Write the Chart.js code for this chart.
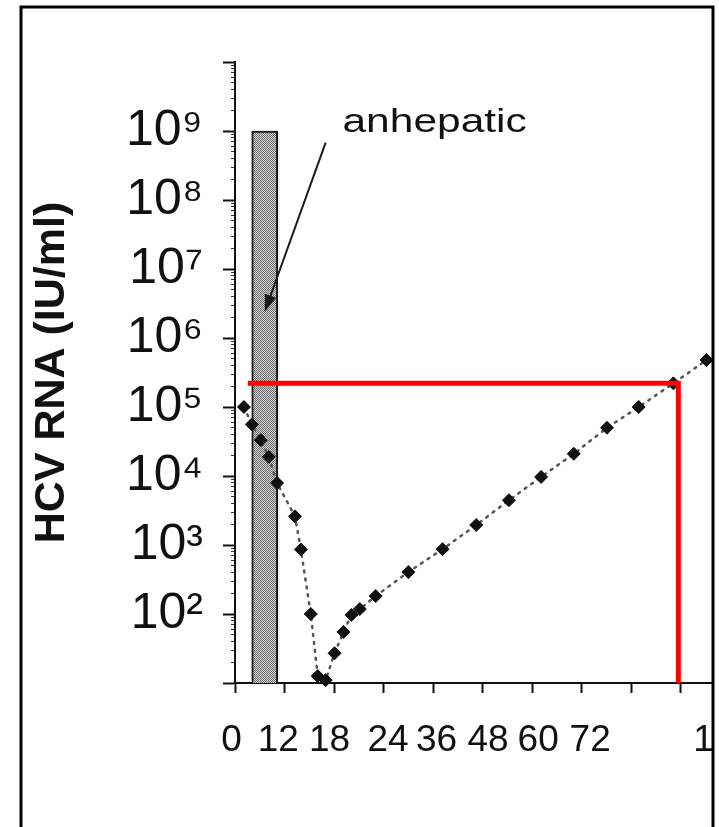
<!DOCTYPE html>
<html>
<head>
<meta charset="utf-8">
<script src="https://cdn.jsdelivr.net/npm/chart.js@4.4.1/dist/chart.umd.min.js"></script>
<style>
  html, body { margin: 0; padding: 0; background: #fff; }
  canvas { display: block; }
</style>
</head>
<body>
<canvas id="c" width="719" height="827"></canvas>
<script>
// Sampling times, in axis units (one unit per tick interval)
const sampleTimes = [0.18, 0.34, 0.52, 0.68, 0.85, 1.21, 1.33, 1.53, 1.67, 1.83,
                     2.01, 2.19, 2.35, 2.52, 2.84, 3.50, 4.19, 4.87, 5.53, 6.18,
                     6.84, 7.51, 8.15, 8.85, 9.52];
// HCV RNA load (IU/ml) at each sampling time
const hcvRna = [1.0e5, 5.6e4, 3.3e4, 1.9e4, 7.9e3, 2.6e3, 860, 100, 12.6, 11,
                27, 55, 97, 118, 182, 405, 870, 1950, 4450, 9700,
                2.1e4, 5.0e4, 1.0e5, 2.2e5, 4.8e5];

// x-axis tick labels and the axis values they are printed at
const xTickLabels = ['0', '12', '18', '24', '36', '48', '60', '72', '1'];
const xTickLabelAt = [-0.07, 0.875, 1.91, 3.09, 4.07, 5.11, 6.12, 7.17, 9.46];
// x-axis tick marks
const xTickMarks = [0, 1, 2, 3, 4, 5, 6, 7, 8, 9];

// y-axis decades (exponents); only these are labelled
const yDecadeExps = [1, 2, 3, 4, 5, 6, 7, 8, 9, 10];
const yLabelledExps = [2, 3, 4, 5, 6, 7, 8, 9];

// anhepatic phase band
const anhepaticAt = 0.6;
const anhepaticRange = [10, 1e9];

// highlighted level
const guideLevel = 2.2e5;
const guideFrom = 0.26;
const guideAt = 8.95;

// annotation: label anchor and arrow (axis values)
const noteText = 'anhepatic';
const noteAnchor = [2.17, 9.7e8];
const arrowFrom = [1.83, 6.8e8];
const arrowTo = [0.60, 2.4e6];

const SUP = ['\u2070', '\u00B9', '\u00B2', '\u00B3', '\u2074', '\u2075', '\u2076', '\u2077', '\u2078', '\u2079'];
const FONT = "'Liberation Sans', Arial, Helvetica, sans-serif";

// stippled grey fill for the anhepatic band
function makeStipple() {
  const pc = document.createElement('canvas');
  pc.width = 4; pc.height = 4;
  const g = pc.getContext('2d');
  g.fillStyle = '#d4d4d4';
  g.fillRect(0, 0, 4, 4);
  g.fillStyle = '#6a6a6a';
  for (let i = 0; i < 4; i++) {
    for (let j = 0; j < 4; j++) {
      if ((i + j) % 2 === 0) g.fillRect(i, j, 1, 1);
    }
  }
  return g.createPattern(pc, 'repeat');
}

const decor = {
  id: 'decor',
  beforeDraw(chart) {
    const c = chart.ctx;
    c.save();
    c.fillStyle = '#fff';
    c.fillRect(0, 0, chart.width, chart.height);
    c.restore();
  },
  afterDatasetsDraw(chart) {
    const { ctx, scales: { x, y } } = chart;
    const x1 = x.getPixelForValue(arrowFrom[0]);
    const y1 = y.getPixelForValue(arrowFrom[1]);
    const x2 = x.getPixelForValue(arrowTo[0]);
    const y2 = y.getPixelForValue(arrowTo[1]);
    const ang = Math.atan2(y2 - y1, x2 - x1);
    const headLen = 17, headHalf = 6;
    ctx.save();
    ctx.strokeStyle = '#1a1a1a';
    ctx.fillStyle = '#1a1a1a';
    ctx.lineWidth = 2;
    ctx.beginPath();
    ctx.moveTo(x1, y1);
    ctx.lineTo(x2 - Math.cos(ang) * headLen * 0.8, y2 - Math.sin(ang) * headLen * 0.8);
    ctx.stroke();
    ctx.beginPath();
    ctx.moveTo(x2, y2);
    ctx.lineTo(x2 - Math.cos(ang) * headLen - Math.sin(ang) * headHalf,
               y2 - Math.sin(ang) * headLen + Math.cos(ang) * headHalf);
    ctx.lineTo(x2 - Math.cos(ang) * headLen + Math.sin(ang) * headHalf,
               y2 - Math.sin(ang) * headLen - Math.cos(ang) * headHalf);
    ctx.closePath();
    ctx.fill();

    // annotation label
    const tx = x.getPixelForValue(noteAnchor[0]);
    const ty = y.getPixelForValue(noteAnchor[1]);
    ctx.translate(tx, ty);
    ctx.scale(1.25, 1);
    ctx.font = '34px ' + FONT;
    ctx.textAlign = 'left';
    ctx.textBaseline = 'alphabetic';
    ctx.fillStyle = '#111';
    ctx.fillText(noteText, 0, 0);
    ctx.restore();
  },
  afterDraw(chart) {
    const c = chart.ctx;
    c.save();
    c.strokeStyle = '#000';
    c.lineWidth = 3;
    c.beginPath();
    c.moveTo(21, chart.height + 2);
    c.lineTo(21, 7);
    c.lineTo(713, 7);
    c.lineTo(713, chart.height + 2);
    c.stroke();
    c.restore();
  }
};

const ctx = document.getElementById('c').getContext('2d');

new Chart(ctx, {
  type: 'line',
  data: {
    datasets: [
      {
        type: 'bar',
        label: 'anhepatic',
        data: [{ x: anhepaticAt, y: anhepaticRange }],
        xAxisID: 'x',
        yAxisID: 'y',
        barThickness: 26,
        grouped: false,
        backgroundColor: makeStipple(),
        borderColor: '#1a1a1a',
        borderWidth: { left: 2, right: 2, top: 2, bottom: 0 },
        borderSkipped: false,
        order: 3
      },
      {
        label: 'HCV RNA',
        data: sampleTimes.map((t, i) => ({ x: t, y: hcvRna[i] })),
        xAxisID: 'x',
        yAxisID: 'y',
        borderColor: '#555',
        borderWidth: 2.5,
        borderDash: [2, 6],
        borderCapStyle: 'round',
        pointStyle: 'rectRot',
        pointRadius: 6.5,
        pointBackgroundColor: '#111',
        pointBorderColor: '#111',
        pointBorderWidth: 1,
        tension: 0,
        clip: false,
        order: 1
      },
      {
        label: 'level',
        data: [
          { x: guideFrom, y: guideLevel },
          { x: guideAt, y: guideLevel },
          { x: guideAt, y: anhepaticRange[0] }
        ],
        xAxisID: 'x',
        yAxisID: 'y',
        borderColor: '#ff0000',
        borderWidth: 5,
        pointRadius: 0,
        borderJoinStyle: 'miter',
        tension: 0,
        order: 0
      }
    ]
  },
  options: {
    responsive: false,
    devicePixelRatio: 1,
    animation: false,
    events: [],
    layout: { padding: { left: 0, right: 6, top: 62, bottom: 0 } },
    plugins: {
      legend: { display: false },
      title: { display: false },
      tooltip: { enabled: false }
    },
    scales: {
      x: {
        type: 'linear',
        position: 'bottom',
        weight: 0,
        offset: false,
        min: 0,
        max: 9.62,
        afterBuildTicks: (s) => { s.ticks = xTickMarks.map(v => ({ value: v })); },
        afterFit: (s) => { s.height = 36; },
        ticks: { display: false },
        grid: {
          offset: false,
          drawOnChartArea: false,
          drawTicks: true,
          tickLength: 10,
          tickWidth: 2,
          tickColor: '#111'
        },
        border: { display: true, color: '#111', width: 2 }
      },
      xl: {
        type: 'linear',
        position: 'bottom',
        weight: 1,
        offset: false,
        min: 0,
        max: 9.62,
        afterBuildTicks: (s) => { s.ticks = xTickLabelAt.map(v => ({ value: v })); },
        afterFit: (s) => { s.height = 108; },
        ticks: {
          autoSkip: false,
          maxRotation: 0,
          minRotation: 0,
          padding: 0,
          color: '#111',
          font: { family: FONT, size: 37 },
          callback: (v, i) => xTickLabels[i]
        },
        grid: { display: false, drawTicks: false, offset: false },
        border: { display: false }
      },
      y: {
        type: 'logarithmic',
        position: 'left',
        weight: 1,
        min: 10,
        max: 1e10,
        afterBuildTicks: (s) => {
          s.ticks = yDecadeExps.map(e => ({ value: Math.pow(10, e), major: true }));
        },
        afterFit: (s) => { s.width = 235; },
        ticks: {
          padding: 20,
          color: '#111',
          font: { family: FONT, size: 50 },
          callback: (v) => {
            const e = Math.round(Math.log10(v));
            return yLabelledExps.includes(e) ? '10' + SUP[e] : '';
          }
        },
        grid: {
          drawOnChartArea: false,
          drawTicks: true,
          tickLength: 12,
          tickWidth: 2,
          tickColor: '#111'
        },
        border: { display: true, color: '#111', width: 2 },
        title: {
          display: true,
          text: 'HCV RNA (IU/ml)',
          color: '#111',
          font: { family: FONT, size: 43, weight: 'bold' },
          padding: { top: 26, bottom: 0 }
        }
      },
      yMinor: {
        type: 'logarithmic',
        position: 'left',
        weight: 0,
        min: 10,
        max: 1e10,
        afterBuildTicks: (s) => {
          const t = [];
          for (let e = 1; e < 10; e++) {
            for (let m = 2; m <= 9; m++) t.push({ value: m * Math.pow(10, e) });
          }
          s.ticks = t;
        },
        afterFit: (s) => { s.width = 0; },
        ticks: { display: false },
        grid: {
          drawOnChartArea: false,
          drawTicks: true,
          tickLength: 4,
          tickWidth: 1,
          tickColor: '#333'
        },
        border: { display: false }
      }
    }
  },
  plugins: [decor]
});
</script>
</body>
</html>
